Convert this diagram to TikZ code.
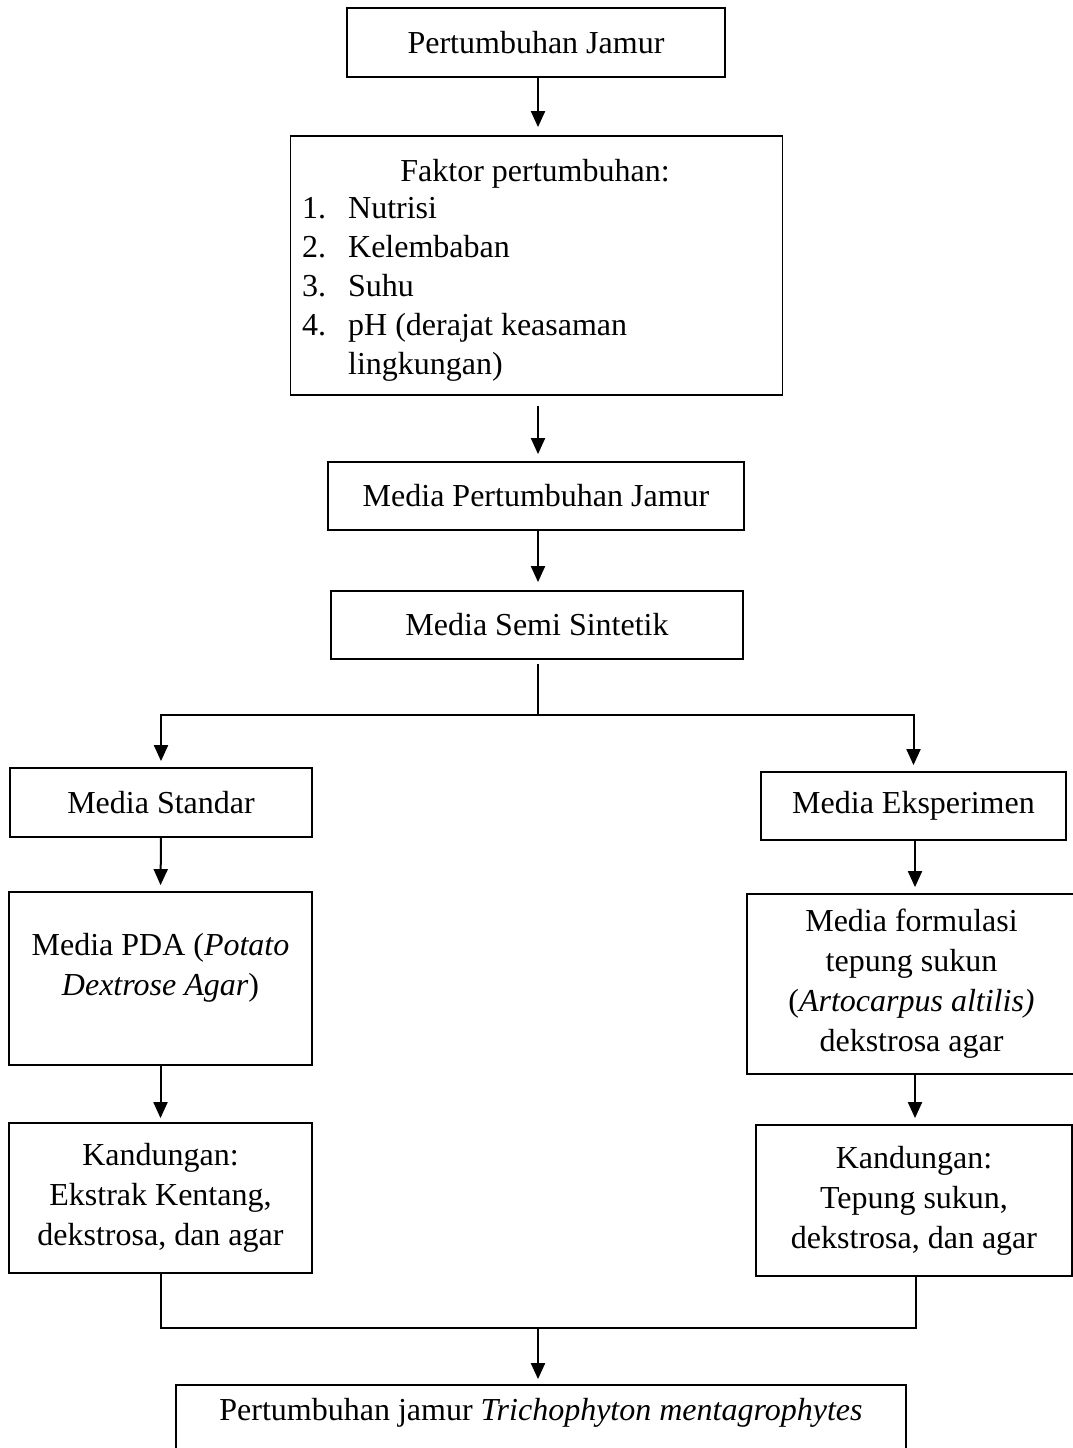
\documentclass[tikz,border=0pt]{standalone}
\usepackage{fontspec}
\setmainfont{Liberation Serif}
\usetikzlibrary{arrows.meta}
\tikzset{
  box/.style={draw, line width=1.8pt, inner sep=0pt, align=center, font=\fontsize{32}{40}\selectfont},
  txt/.style={inner sep=0pt, align=center, font=\fontsize{32}{40}\selectfont},
  ln/.style={line width=2pt},
  arr/.style={line width=2pt, -{Triangle[width=14pt,length=16pt]}}
}
\begin{document}
\begin{tikzpicture}[x=1pt,y=-1pt]
\useasboundingbox (0,0) rectangle (1073,1448);
\clip (0,0) rectangle (1073,1448);
% boxes
\node[box, minimum width=378pt, minimum height=69pt] (b1) at (536,42.5) {Pertumbuhan Jamur};
\node[box, minimum width=492pt, minimum height=259pt] (b2) at (536.5,265.5) {};
\node[txt, anchor=base] (f0) at (535,181) {Faktor pertumbuhan:};
\node[txt, anchor=base west] (f1) at (302,218) {\makebox[46pt][l]{1.}Nutrisi};
\node[txt, anchor=base west] (f2) at (302,257) {\makebox[46pt][l]{2.}Kelembaban};
\node[txt, anchor=base west] (f3) at (302,296) {\makebox[46pt][l]{3.}Suhu};
\node[txt, anchor=base west] (f4) at (302,335) {\makebox[46pt][l]{4.}pH (derajat keasaman};
\node[txt, anchor=base west] (f5) at (302,374) {\hspace*{46pt}lingkungan)};
\node[box, minimum width=416pt, minimum height=68pt] (b3) at (536,496) {Media Pertumbuhan Jamur};
\node[box, minimum width=412pt, minimum height=68pt] (b4) at (537,625) {Media Semi Sintetik};
\node[box, minimum width=302pt, minimum height=69pt] (std) at (161,802.5) {Media Standar};
\node[box, minimum width=305pt, minimum height=68pt] (eks) at (913.5,806) {Media Eksperimen};
\node[box, minimum width=303pt, minimum height=173pt] (pda) at (160.5,978.5) {};
\node[txt] (pdatxt) at (160.5,968) {Media PDA (\textit{Potato}\\\textit{Dextrose Agar})};
\node[box, minimum width=303pt, minimum height=150pt] (kandL) at (160.5,1198) {Kandungan:\\Ekstrak Kentang,\\dekstrosa, dan agar};
\node[box, minimum width=329pt, minimum height=180pt] (form) at (911.5,984) {Media formulasi\\tepung sukun\\(\textit{Artocarpus altilis)}\\dekstrosa agar};
\node[box, minimum width=316pt, minimum height=151pt] (kandR) at (914,1200.5) {Kandungan:\\Tepung sukun,\\dekstrosa, dan agar};
\node[box, minimum width=730pt, minimum height=85pt] (final) at (541,1427.5) {};
\node[txt] (finaltxt) at (541,1413) {Pertumbuhan jamur \textit{Trichophyton mentagrophytes}};
% connectors
\coordinate (split) at (538,715);
\coordinate (merge) at (538,1328);
\draw[arr, shorten >=8pt] (b1.south -| 538,0) -- (b2.north -| 538,0);
\draw[arr, shorten <=10pt, shorten >=7pt] (b2.south -| 538,0) -- (b3.north -| 538,0);
\draw[arr, shorten >=8pt] (b3.south -| 538,0) -- (b4.north -| 538,0);
\draw[ln, shorten <=4pt] (b4.south -| split) -- (split);
\draw[arr, shorten >=6pt] (split) -| (std.north);
\draw[arr, shorten >=6pt] (split) -| (eks.north);
\draw[arr, shorten >=6pt] (std.south) -- (pda.north);
\draw[arr, shorten >=4pt] (pda.south) -- (kandL.north);
\draw[arr, shorten >=6pt] (eks.south -| 915,0) -- (form.north -| 915,0);
\draw[arr, shorten >=6pt] (form.south -| 915,0) -- (kandR.north -| 915,0);
\draw[ln] (kandL.south) |- (merge);
\draw[ln] (kandR.south -| 916,0) |- (merge);
\draw[arr, shorten >=5pt] (merge) -- (final.north -| merge);
\end{tikzpicture}
\end{document}
